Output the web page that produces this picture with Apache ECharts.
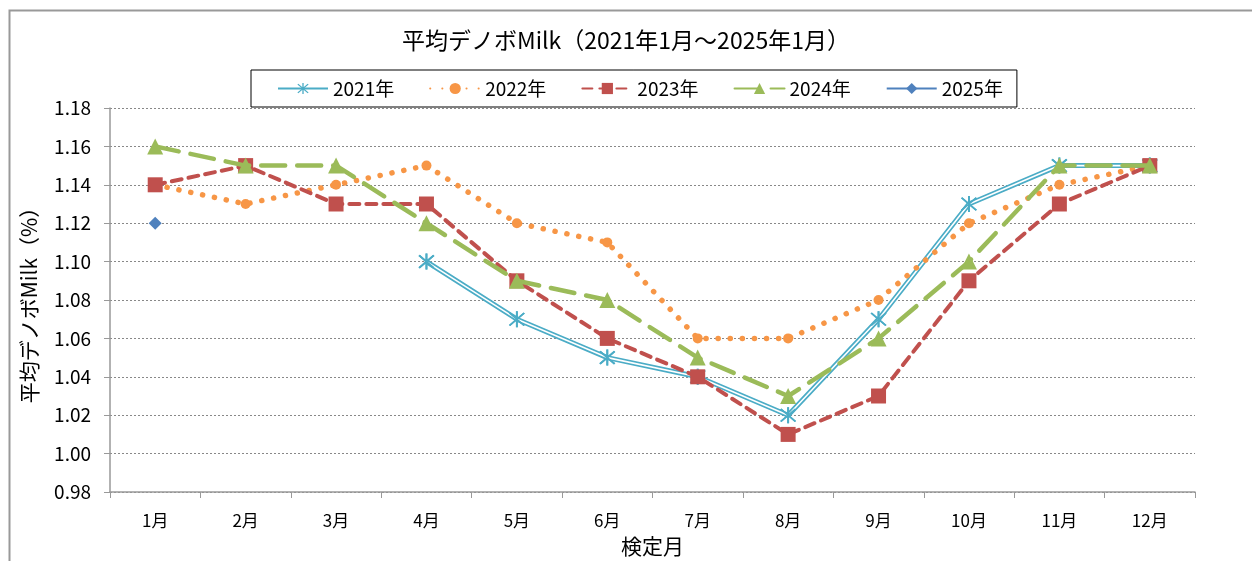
<!DOCTYPE html>
<html>
<head>
<meta charset="utf-8">
<script src="https://cdn.jsdelivr.net/npm/echarts@6/dist/echarts.min.js"></script>
<style>
html,body{margin:0;padding:0;background:#fff;}
#chart{width:1252px;height:561px;}
</style>
</head>
<body>
<div id="chart"></div>
<script>
const months = ['1月','2月','3月','4月','5月','6月','7月','8月','9月','10月','11月','12月'];
const seriesNames = ['2021年','2022年','2023年','2024年','2025年'];
const v2021 = [null, null, null, 1.10, 1.07, 1.05, 1.04, 1.02, 1.07, 1.13, 1.15, 1.15];
const v2022 = [1.14, 1.13, 1.14, 1.15, 1.12, 1.11, 1.06, 1.06, 1.08, 1.12, 1.14, 1.15];
const v2023 = [1.14, 1.15, 1.13, 1.13, 1.09, 1.06, 1.04, 1.01, 1.03, 1.09, 1.13, 1.15];
const v2024 = [1.16, 1.15, 1.15, 1.12, 1.09, 1.08, 1.05, 1.03, 1.06, 1.10, 1.15, 1.15];
const v2025 = [1.12, null, null, null, null, null, null, null, null, null, null, null];
const yMin = 0.98, yMax = 1.18, yStep = 0.02;

const FONT = '"Noto Sans CJK JP", "Noto Sans", sans-serif';
const asterisk = 'path://M9 0 L11 0 L11 20 L9 20 Z M1.5 2.9 L2.9 1.5 L18.5 17.1 L17.1 18.5 Z M17.1 1.5 L18.5 2.9 L2.9 18.5 L1.5 17.1 Z';
const C21 = '#4BACC6', C22 = '#F79646', C23 = '#C0504D', C24 = '#9BBB59', C25 = '#4F81BD';

const chart = echarts.init(document.getElementById('chart'), null, {renderer: 'canvas'});
chart.setOption({
  animation: false,
  backgroundColor: '#fff',
  graphic: [{
    type: 'rect', left: 7, top: 8, silent: true,
    shape: {width: 1300, height: 600},
    style: {fill: 'none', stroke: '#999', lineWidth: 2}
  }],
  title: {
    text: '平均デノボMilk（2021年1月～2025年1月）',
    left: 'center', top: 24,
    textStyle: {fontFamily: FONT, fontSize: 23, fontWeight: 'normal', color: '#000'}
  },
  legend: {
    data: seriesNames,
    left: 251, top: 70,
    padding: [9, 14, 9, 26],
    itemGap: 35,
    itemWidth: 50, itemHeight: 14,
    borderColor: '#000', borderWidth: 1,
    textStyle: {fontFamily: FONT, fontSize: 19, color: '#000'}
  },
  grid: {left: 110, right: 57, top: 108, bottom: 69, containLabel: false, outerBoundsMode: 'none'},
  xAxis: {
    type: 'category', data: months, boundaryGap: true,
    name: '検定月', nameLocation: 'middle', nameGap: 44,
    nameTextStyle: {fontFamily: FONT, fontSize: 21, color: '#000'},
    axisLine: {lineStyle: {color: '#999', width: 1.5}},
    axisTick: {show: true, length: 6, inside: false, alignWithLabel: false, lineStyle: {color: '#999'}},
    axisLabel: {fontFamily: FONT, fontSize: 17, color: '#000', margin: 20},
    splitLine: {show: false}
  },
  yAxis: {
    type: 'value', min: yMin, max: yMax, interval: yStep,
    name: '平均デノボMilk（%）', nameLocation: 'middle', nameGap: 70, nameRotate: 90,
    nameTextStyle: {fontFamily: FONT, fontSize: 21, color: '#000'},
    axisLine: {show: true, lineStyle: {color: '#999', width: 1.5}},
    axisTick: {show: true, length: 6, lineStyle: {color: '#999'}},
    axisLabel: {fontFamily: FONT, fontSize: 19, color: '#000', margin: 19,
      formatter: v => v.toFixed(2)},
    splitLine: {show: true, lineStyle: {color: '#888', type: [2, 2], width: 1}}
  },
  series: [
    {
      name: '2021年', type: 'line', data: v2021, z: 2,
      symbol: asterisk, symbolSize: 16, showAllSymbol: true, connectNulls: false,
      itemStyle: {color: C21},
      lineStyle: {color: C21, width: 5}
    },
    {
      name: '2021w', type: 'line', data: v2021, z: 3, silent: true,
      symbol: 'none', itemStyle: {color: '#fff'},
      lineStyle: {color: '#fff', width: 1.6}
    },
    {
      name: '2021s', type: 'line', data: v2021, z: 4, silent: true,
      symbol: asterisk, symbolSize: 16, itemStyle: {color: C21},
      lineStyle: {opacity: 0}
    },
    {
      name: '2022年', type: 'line', data: v2022, z: 5,
      symbol: 'circle', symbolSize: 10,
      itemStyle: {color: C22},
      lineStyle: {color: C22, width: 5.5, type: [0.1, 12], cap: 'round'}
    },
    {
      name: '2023年', type: 'line', data: v2023, z: 6,
      symbol: 'rect', symbolSize: 15,
      itemStyle: {color: C23},
      lineStyle: {color: C23, width: 4, type: [10, 7], cap: 'round'}
    },
    {
      name: '2024年', type: 'line', data: v2024, z: 7,
      symbol: 'triangle', symbolSize: 16,
      itemStyle: {color: C24},
      lineStyle: {color: C24, width: 4.5, type: [24, 12], cap: 'round'}
    },
    {
      name: '2025年', type: 'line', data: v2025, z: 8,
      symbol: 'diamond', symbolSize: 13,
      itemStyle: {color: C25},
      lineStyle: {color: C25, width: 3.5}
    }
  ]
});
</script>
</body>
</html>
